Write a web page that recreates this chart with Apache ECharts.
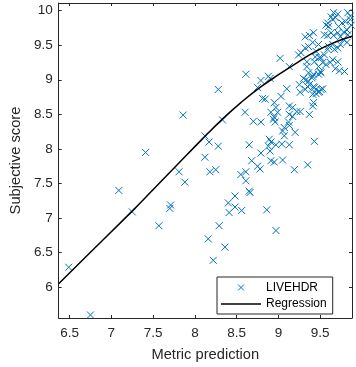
<!DOCTYPE html>
<html>
<head>
<meta charset="utf-8">
<script src="https://cdn.jsdelivr.net/npm/echarts@6/dist/echarts.min.js"></script>
<style>html,body{margin:0;padding:0;background:#fff}#c{width:356px;height:367px}</style>
</head>
<body>
<div id="c"></div>
<script>
// LIVEHDR scatter: metric prediction (x) vs subjective score (y)
var predX = [6.49,6.75,7.09,7.25,7.41,7.57,7.70,7.71,7.81,7.86,7.88,
  8.28,8.61,9.02,8.33,8.60,8.70,8.79,8.75,8.79,8.88,8.90,8.81,8.84,8.95,8.97,8.91,8.99,8.95,8.96,
  9.03,9.10,9.13,9.17,9.13,9.17,9.26,9.37,9.41,9.42,9.12,9.07,9.05,9.13,9.20,9.07,8.89,8.91,8.88,8.90,
  8.97,9.04,9.13,9.43,8.79,8.65,8.28,8.17,8.12,8.12,8.68,8.75,8.78,8.91,8.95,9.05,9.19,9.35,8.18,8.25,
  8.55,8.61,
  9.13,9.24,9.27,9.34,9.36,9.41,9.37,9.42,9.48,9.45,9.44,9.49,9.43,9.48,9.50,9.48,9.53,9.57,9.55,9.59,
  9.60,9.65,9.59,9.55,9.63,9.66,9.71,9.74,9.78,9.74,9.71,9.67,9.65,9.71,9.68,9.73,9.79,9.82,9.83,9.82,
  9.78,9.80,9.86,9.83,9.86,9.65,9.68,9.63,9.66,9.71,9.59,9.60,9.57,9.72,9.76,9.87,
  9.33,9.36,9.35,9.37,9.41,9.42,9.43,9.45,9.48,9.49,9.51,9.53,9.41,9.45,9.26,9.36,9.30,9.25,
  9.32,9.40,9.42,9.51,9.22,8.94,9.32,9.32,9.34,9.62,9.51,
  8.61,8.48,8.65,8.66,8.40,8.48,8.41,8.56,8.86,8.29,8.16,8.36,8.97,8.22];
var subjY = [6.29,5.60,7.40,7.09,7.95,6.89,7.14,7.19,7.67,8.49,7.52,
  8.86,9.08,9.31,8.42,8.53,8.40,8.39,8.89,8.99,9.05,9.02,8.73,8.72,8.67,8.60,8.53,8.53,8.46,8.39,
  8.76,8.87,8.62,8.60,8.50,8.47,8.54,8.50,8.62,8.67,8.39,8.31,8.26,8.34,8.24,8.19,8.14,8.10,8.04,7.97,
  8.06,8.07,8.06,8.11,7.94,8.06,8.04,8.10,8.19,7.88,7.83,7.75,7.71,7.83,7.81,7.84,7.70,7.77,7.67,7.70,
  7.63,7.67,
  9.19,9.36,9.39,9.26,9.48,9.54,9.64,9.68,9.51,9.41,9.33,9.32,9.26,9.19,9.12,9.08,9.25,9.22,9.36,9.44,
  9.48,9.51,9.64,9.65,9.68,9.64,9.68,9.62,9.58,9.51,9.46,9.44,9.29,9.26,9.16,9.13,9.12,9.54,9.65,9.72,
  9.69,9.84,9.87,9.97,9.92,9.87,9.90,9.91,9.97,9.95,9.82,9.77,9.79,9.77,9.82,9.79,
  9.00,8.98,8.90,8.93,9.05,8.90,8.89,8.86,8.82,8.83,8.86,8.87,8.79,8.80,8.82,9.10,9.02,8.93,
  8.86,9.03,9.08,9.10,8.54,8.43,9.62,9.46,9.19,9.25,9.32,
  7.54,7.32,7.39,7.37,7.22,7.16,7.08,7.11,7.12,6.89,6.70,6.58,6.82,6.39];
// Regression curve
var regX = [6.37,6.72,7.24,7.49,7.78,8.07,8.32,8.55,8.78,9.01,9.24,9.43,9.65,9.88];
var regY = [6.05,6.47,7.09,7.40,7.76,8.12,8.42,8.67,8.89,9.08,9.26,9.40,9.53,9.63];
var xTicks = [6.5,7,7.5,8,8.5,9,9.5];
var yTicks = [6,6.5,7,7.5,8,8.5,9,9.5,10];

var scatterData = predX.map(function(v,i){return [v, subjY[i]];});
var regData = regX.map(function(v,i){return [v, regY[i]];});
var xMin = 6.37, xMax = 9.88, yMin = 5.556, yMax = 10.11;
var AX = '#262626';
var BLUE = '#0072BD';
var FONT = '"Liberation Sans", Arial, Helvetica, sans-serif';
var cross = 'path://M0,0M14,14M3.5,3.5L10.5,10.5M10.5,3.5L3.5,10.5';
var lineIcon = 'path://M0,0L40,0L40,1.5L0,1.5Z';

function xAx(pos, labels){
  return {type:'value', position:pos, min:xMin, max:xMax,
    name: labels ? 'Metric prediction' : '', nameLocation:'middle', nameGap:29,
    nameTextStyle:{color:AX, fontSize:14.7, fontFamily:FONT},
    axisLine:{show:true, onZero:false, lineStyle:{color:AX, width:1}},
    axisTick:{show:true, inside:true, length:3, customValues:xTicks, lineStyle:{color:AX}},
    axisLabel:{show:labels, customValues:xTicks, color:AX, fontSize:13.5, fontFamily:FONT, margin:8},
    splitLine:{show:false}};
}
function yAx(pos, labels){
  return {type:'value', position:pos, min:yMin, max:yMax,
    name: labels ? 'Subjective score' : '', nameLocation:'middle', nameGap:31, nameRotate:90,
    nameTextStyle:{color:AX, fontSize:14.7, fontFamily:FONT},
    axisLine:{show:true, onZero:false, lineStyle:{color:AX, width:1}},
    axisTick:{show:true, inside:true, length:3, customValues:yTicks, lineStyle:{color:AX}},
    axisLabel:{show:labels, customValues:yTicks, color:AX, fontSize:13.5, fontFamily:FONT, margin:6},
    splitLine:{show:false}};
}

var chart = echarts.init(document.getElementById('c'), null, {renderer:'canvas'});
chart.setOption({
  animation:false,
  backgroundColor:'#fff',
  grid:{left:47, right:4, top:3, bottom:47, containLabel:false},
  xAxis:[xAx('bottom', true), xAx('top', false)],
  yAxis:[yAx('left', true), yAx('right', false)],
  legend:{
    orient:'vertical', left:217, top:277,
    padding:[4,6,4,4], itemGap:4, itemWidth:40, itemHeight:12,
    borderColor:AX, borderWidth:1, backgroundColor:'#fff',
    textStyle:{color:'#000', fontSize:12, fontFamily:FONT},
    data:[
      {name:'LIVEHDR', icon:cross, itemStyle:{color:'transparent', borderColor:BLUE, borderWidth:1}},
      {name:'Regression', icon:lineIcon, itemStyle:{color:'#000', borderWidth:0}}
    ]
  },
  series:[
    {name:'LIVEHDR', type:'scatter', xAxisIndex:0, yAxisIndex:0, data:scatterData,
      symbol:cross, symbolSize:14,
      itemStyle:{color:'transparent', borderColor:BLUE, borderWidth:1, opacity:1},
      emphasis:{disabled:true}},
    {name:'Regression', type:'line', xAxisIndex:0, yAxisIndex:0, data:regData,
      smooth:0.5, showSymbol:false, symbol:'none',
      lineStyle:{color:'#000', width:1.5}, itemStyle:{color:'#000'}, z:3}
  ]
});
</script>
</body>
</html>
